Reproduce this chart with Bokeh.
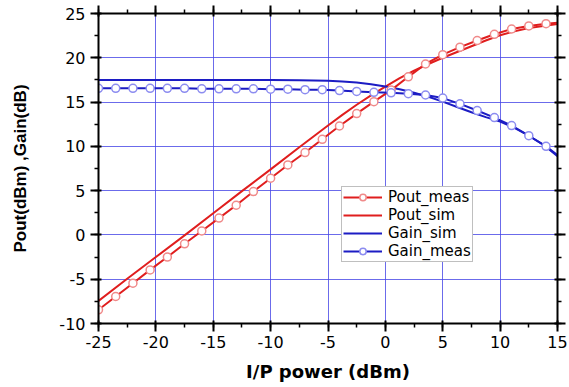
from bokeh.plotting import figure
from bokeh.models import (Range1d, LinearAxis, SingleIntervalTicker, Legend, LegendItem,
                          CustomJSTickFormatter)
from bokeh.embed import file_html
from bokeh.resources import INLINE

# ---- data ----
pin_meas = [-25, -23.5, -22, -20.5, -19, -17.5, -16, -14.5, -13, -11.5, -10, -8.5, -7,
            -5.5, -4, -2.5, -1, 0.5, 2, 3.5, 5, 6.5, 8, 9.5, 11, 12.5, 14, 15]
pout_meas = [-8.45, -6.95, -5.45, -3.95, -2.5, -1.0, 0.45, 1.9, 3.35, 4.9, 6.4, 7.9, 9.3,
             10.8, 12.3, 13.7, 15.05, 16.35, 17.85, 19.3, 20.35, 21.2, 21.95, 22.65, 23.25,
             23.6, 23.85, 23.95]
gain_meas = [16.55, 16.55, 16.55, 16.55, 16.55, 16.55, 16.5, 16.5, 16.5, 16.5, 16.45, 16.45,
             16.4, 16.4, 16.3, 16.2, 16.1, 16.05, 15.95, 15.8, 15.45, 14.8, 14.05, 13.25,
             12.35, 11.2, 10.0, 9.0]

pin_sim = [-25, -22.5, -20, -17.5, -15, -12.5, -10, -7.5, -5, -3.75, -2.5, -1.25, 0,
           1.25, 2.5, 3.75, 5, 6.25, 7.5, 8.75, 10, 11.25, 12.5, 13.75, 15]
pout_sim = [-7.45, -4.95, -2.5, -0.05, 2.45, 4.95, 7.4, 9.9, 12.35, 13.55, 14.7, 15.75,
            16.75, 17.7, 18.55, 19.3, 20.0, 20.65, 21.3, 21.95, 22.55, 23.0, 23.35, 23.6, 23.8]
gain_sim = [17.5, 17.5, 17.5, 17.5, 17.5, 17.5, 17.5, 17.45, 17.4, 17.32, 17.2, 17.0,
            16.75, 16.45, 16.05, 15.6, 15.05, 14.45, 13.85, 13.3, 12.8, 12.1, 11.2, 10.2, 8.9]

x_ticks_interval = 5
y_ticks_interval = 5

RED = "#e01e1e"
BLUE = "#1c1cc4"
RED_MK = "#f08a8a"
BLUE_MK = "#8c8cf0"
GRID = "#4646e6"

p = figure(width=569, height=387, x_range=Range1d(-25, 15), y_range=Range1d(-10, 25),
           output_backend="svg", toolbar_location=None,
           min_border_left=98, min_border_right=12, min_border_top=13, min_border_bottom=64)
p.outline_line_color = None
p.background_fill_color = "white"
p.border_fill_color = "white"

xa = p.below[0]
ya = p.left[0]

xt = SingleIntervalTicker(interval=x_ticks_interval, num_minor_ticks=2)
yt = SingleIntervalTicker(interval=y_ticks_interval, num_minor_ticks=2)
xa.ticker = xt
ya.ticker = yt
p.xgrid.ticker = xt
p.ygrid.ticker = yt
for g in (p.xgrid, p.ygrid):
    g.grid_line_color = GRID
    g.grid_line_width = 1
    g.grid_line_alpha = 0.8

plain = CustomJSTickFormatter(code="return String(tick);")
blank = CustomJSTickFormatter(code="return '';")

top = LinearAxis(ticker=xt, formatter=blank)
right = LinearAxis(ticker=yt, formatter=blank)
p.add_layout(top, "above")
p.add_layout(right, "right")

for ax in (xa, ya, top, right):
    ax.axis_line_color = "black"
    ax.axis_line_width = 2
    ax.major_tick_line_color = "black"
    ax.major_tick_line_width = 2
    ax.minor_tick_line_color = "black"
    ax.minor_tick_line_width = 1.5
    ax.major_tick_out = 8
    ax.major_tick_in = 3
    ax.minor_tick_out = 4
    ax.minor_tick_in = 0
    ax.major_label_text_font = "DejaVu Sans"
    ax.major_label_text_font_size = "16px"
    ax.major_label_text_color = "black"

for ax in (top, right):
    ax.major_label_text_font_size = "1px"
    ax.major_label_standoff = 0

xa.formatter = plain
ya.formatter = plain

xa.major_label_standoff = 4
xa.axis_label = "I/P power (dBm)"
xa.axis_label_text_font = "DejaVu Sans"
xa.axis_label_text_font_style = "bold"
xa.axis_label_text_font_size = "18px"
xa.axis_label_text_color = "black"
xa.axis_label_standoff = 10

ya.major_label_standoff = 5
ya.axis_label = "Pout(dBm) ,Gain(dB)"
ya.axis_label_text_font = "Liberation Sans"
ya.axis_label_text_font_style = "bold"
ya.axis_label_text_font_size = "17px"
ya.axis_label_text_color = "black"
ya.axis_label_standoff = 26

# ---- series ----
r_ps = p.line(pin_sim, pout_sim, line_color=RED, line_width=2)
r_gs = p.line(pin_sim, gain_sim, line_color=BLUE, line_width=2)
r_pm = p.line(pin_meas, pout_meas, line_color=RED, line_width=2)
r_gm = p.line(pin_meas, gain_meas, line_color=BLUE, line_width=2)
r_pm_s = p.scatter(pin_meas[:-1], pout_meas[:-1], marker="circle", size=8,
                   fill_color="white", line_color=RED_MK, line_width=1.5)
r_gm_s = p.scatter(pin_meas[:-1], gain_meas[:-1], marker="circle", size=8,
                   fill_color="white", line_color=BLUE_MK, line_width=1.5)

legend = Legend(items=[
    LegendItem(label="Pout_meas", renderers=[r_pm, r_pm_s]),
    LegendItem(label="Pout_sim", renderers=[r_ps]),
    LegendItem(label="Gain_sim", renderers=[r_gs]),
    LegendItem(label="Gain_meas", renderers=[r_gm, r_gm_s]),
], location=(243, 61))
legend.border_line_color = "#808080"
legend.border_line_width = 1
legend.background_fill_color = "white"
legend.background_fill_alpha = 1
legend.padding = 1
legend.spacing = 0
legend.margin = 0
legend.glyph_width = 39
legend.glyph_height = 16
legend.label_height = 16
legend.label_standoff = 6
legend.label_text_font = "DejaVu Sans"
legend.label_text_font_size = "15px"
legend.label_text_color = "black"
p.add_layout(legend)

open("out.html", "w").write(file_html(p, INLINE))
